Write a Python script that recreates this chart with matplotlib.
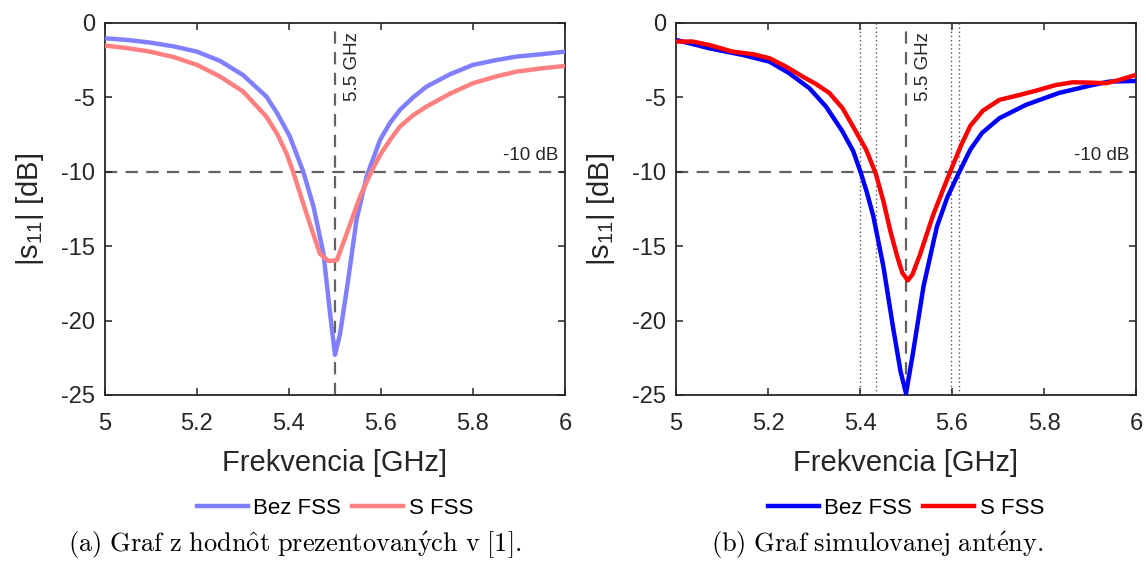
import numpy as np
import matplotlib.pyplot as plt

# (a) values
freq_a_bez = [5.0, 5.05, 5.098, 5.15, 5.2, 5.25, 5.30, 5.351, 5.375, 5.402, 5.431, 5.453,
              5.475, 5.490, 5.5, 5.511, 5.529, 5.547, 5.569, 5.598, 5.62, 5.641, 5.67,
              5.699, 5.75, 5.80, 5.85, 5.895, 5.95, 6.0]
s11_a_bez = [-1.03, -1.15, -1.32, -1.58, -1.93, -2.55, -3.5, -4.95, -6.1, -7.64, -9.99,
             -12.3, -15.5, -19.7, -22.3, -20.9, -17.2, -13.2, -10.3, -7.86, -6.7, -5.85,
             -5.0, -4.28, -3.45, -2.82, -2.5, -2.26, -2.1, -1.93]
freq_a_s = [5.0, 5.05, 5.098, 5.15, 5.2, 5.25, 5.30, 5.351, 5.375, 5.395, 5.409, 5.438,
            5.467, 5.486, 5.504, 5.525, 5.554, 5.579, 5.598, 5.62, 5.641, 5.67, 5.699,
            5.75, 5.80, 5.85, 5.895, 5.95, 6.0]
s11_a_s = [-1.52, -1.7, -1.93, -2.3, -2.82, -3.6, -4.6, -6.3, -7.5, -8.8, -10.0, -12.8,
           -15.5, -16.0, -15.95, -14.2, -11.7, -10.0, -8.87, -7.85, -6.97, -6.2, -5.62,
           -4.75, -4.05, -3.6, -3.27, -3.05, -2.89]

# (b) simulated antenna
freq_b_bez = [5.0, 5.072, 5.145, 5.203, 5.246, 5.290, 5.326, 5.362, 5.385, 5.401, 5.415,
              5.429, 5.451, 5.472, 5.488, 5.5, 5.515, 5.538, 5.567, 5.59, 5.616, 5.64,
              5.665, 5.703, 5.761, 5.833, 5.906, 5.942, 6.0]
s11_b_bez = [-1.14, -1.7, -2.15, -2.6, -3.38, -4.39, -5.62, -7.3, -8.6, -10.0, -11.4,
             -13.0, -16.4, -20.5, -23.4, -24.9, -22.2, -17.7, -13.7, -11.7, -10.0, -8.5,
             -7.4, -6.4, -5.5, -4.7, -4.17, -3.94, -3.9]
freq_b_s = [5.0, 5.036, 5.072, 5.123, 5.167, 5.203, 5.239, 5.275, 5.304, 5.333, 5.362,
            5.391, 5.413, 5.434, 5.451, 5.466, 5.48, 5.492, 5.504, 5.514, 5.530, 5.559,
            5.578, 5.596, 5.62, 5.64, 5.667, 5.703, 5.739, 5.783, 5.826, 5.862, 5.899,
            5.935, 5.964, 6.0]
s11_b_s = [-1.25, -1.25, -1.48, -1.93, -2.1, -2.37, -2.93, -3.6, -4.1, -4.7, -5.73,
           -7.3, -8.5, -10.1, -12.0, -14.0, -15.6, -16.8, -17.3, -16.9, -15.6, -12.9,
           -11.4, -10.0, -8.2, -6.9, -5.9, -5.17, -4.9, -4.55, -4.17, -3.99, -4.01,
           -4.05, -3.83, -3.49]
band_edges_b = [5.401, 5.434, 5.597, 5.616]

labels = ["Bez FSS", "S FSS"]
captions = [r"$\mathrm{(a)\ Graf\ z\ hodn\^ot\ prezentovan\'ych\ v\ [1].}$",
            r"$\mathrm{(b)\ Graf\ simulovanej\ ant\'eny.}$"]

plt.rcParams['font.family'] = ['Liberation Sans', 'DejaVu Sans']
plt.rcParams['axes.unicode_minus'] = False
plt.rcParams['mathtext.fontset'] = 'custom'
plt.rcParams['mathtext.rm'] = 'Liberation Sans'
plt.rcParams['mathtext.it'] = 'Liberation Sans'

fig = plt.figure(figsize=(11.46, 5.62), dpi=100)
ax_a = fig.add_axes([0.0916, 0.2972, 0.4014, 0.662])
ax_b = fig.add_axes([0.5899, 0.2972, 0.4014, 0.662])

panels = [
    (ax_a, freq_a_bez, s11_a_bez, freq_a_s, s11_a_s, '#8080ff', '#ff8080'),
    (ax_b, freq_b_bez, s11_b_bez, freq_b_s, s11_b_s, '#0000ff', '#ff0000'),
]
grey = '#626262'
dark = '#262626'

for ax, fx1, y1, fx2, y2, c1, c2 in panels:
    ax.axhline(-10, color=grey, lw=1.6, ls=(0, (5.5, 3.8)), zorder=1)
    ax.axvline(5.5, color=grey, lw=1.6, ls=(0, (5.5, 3.8)), zorder=1)
    ax.plot(fx1, y1, color=c1, lw=3.2, label=labels[0], zorder=3, solid_joinstyle='round')
    ax.plot(fx2, y2, color=c2, lw=3.2, label=labels[1], zorder=3, solid_joinstyle='round')
    ax.text(5.539, -0.6, "5.5 GHz", rotation=90, ha='center', va='top', fontsize=13.5, color=dark)
    ax.text(5.985, -9.45, "-10 dB", ha='right', va='bottom', fontsize=13.5, color=dark)
    ax.set_xlim(5, 6)
    ax.set_ylim(-25, 0)
    ax.set_xticks(np.arange(5, 6.01, 0.2))
    ax.set_xticklabels(["5", "5.2", "5.4", "5.6", "5.8", "6"])
    ax.set_yticks([0, -5, -10, -15, -20, -25])
    ax.tick_params(direction='in', top=True, right=True, labelsize=17, length=5,
                   width=1.1, color=dark, labelcolor=dark)
    ax.tick_params(axis='x', pad=13)
    ax.tick_params(axis='y', pad=7)
    for sp in ax.spines.values():
        sp.set_color(dark)
        sp.set_linewidth(1.3)
    ax.set_xlabel("Frekvencia [GHz]", fontsize=21, labelpad=10, color=dark)
    ax.set_ylabel(r"|s$_{11}$| [dB]", fontsize=21, labelpad=11, color=dark)
    ax.legend(loc='center', bbox_to_anchor=(0.5, -0.304), ncol=2, frameon=False,
              fontsize=16, handlelength=2.3, handletextpad=0.25, columnspacing=0.5)

for x in band_edges_b:
    ax_b.axvline(x, color='#555555', lw=1.0, ls=(0, (1, 2)), zorder=1)

fig.text(0.2574, 0.030, captions[0], ha='center', va='center', fontsize=19,
         math_fontfamily='cm', color='black')
fig.text(0.7653, 0.030, captions[1], ha='center', va='center', fontsize=19,
         math_fontfamily='cm', color='black')

fig.savefig("out.png", dpi=100)
